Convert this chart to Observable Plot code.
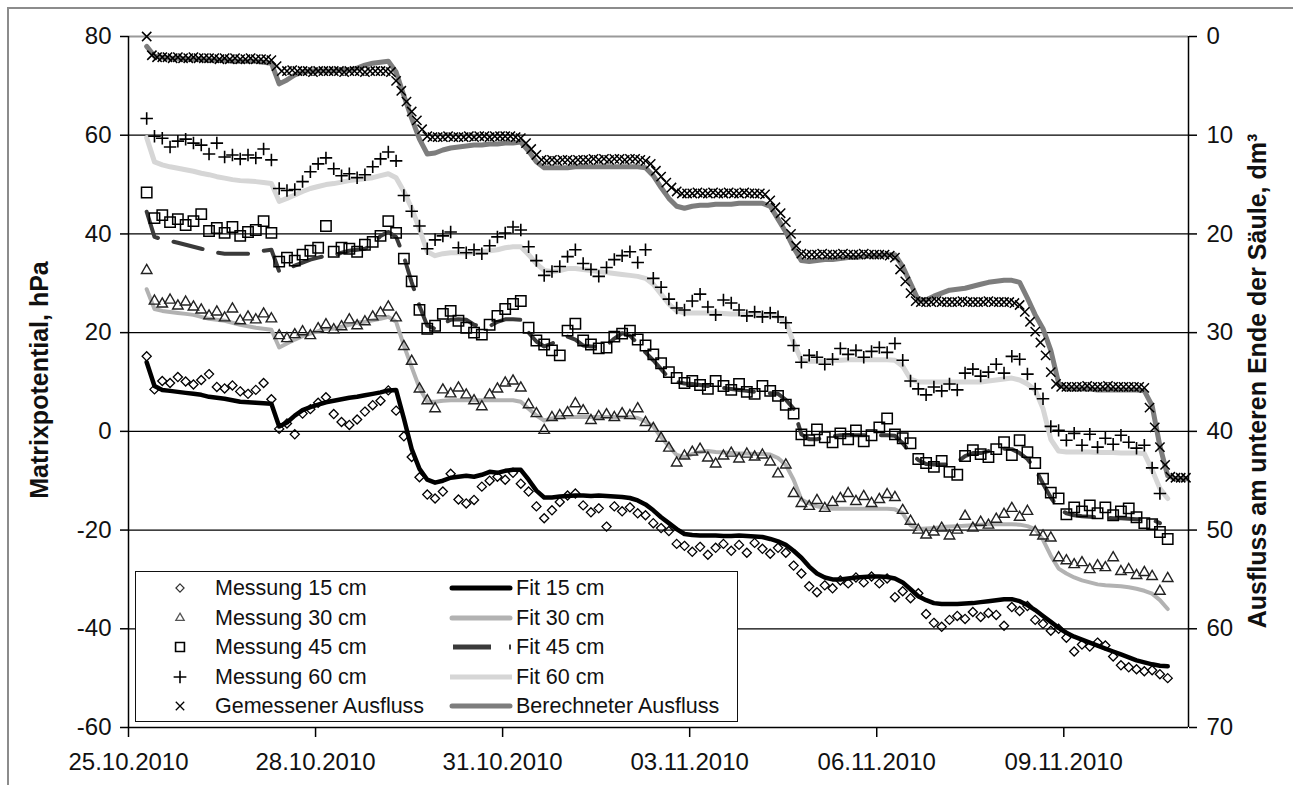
<!DOCTYPE html>
<html><head><meta charset="utf-8">
<script src="https://cdn.jsdelivr.net/npm/d3@7"></script>
<script src="https://cdn.jsdelivr.net/npm/@observablehq/plot@0.6"></script>
<style>
html,body{margin:0;padding:0;background:#fff;overflow:hidden}
#wrap{position:relative;width:1293px;height:785px;overflow:hidden;background:#fff;font-family:"Liberation Sans",Arial,sans-serif;color:#111}
.ttl{position:absolute;white-space:nowrap;font-weight:bold;font-size:25px;line-height:1;transform:translate(-50%,-50%) rotate(-90deg)}
#legend{position:absolute;left:135px;top:571px;width:601px;height:149px;border:1.5px solid #111;background:#fff}
.lt{position:absolute;font-size:21.5px;line-height:24px;height:24px;white-space:nowrap}
.li{position:absolute}
</style></head>
<body>
<div id="wrap">
  <div style="position:absolute;left:7px;top:7px;width:1300px;height:800px;border-top:2px solid #8c8c8c;border-left:2px solid #8c8c8c"></div>
  <div id="chart" style="position:absolute;left:0;top:0"></div>
  <div class="ttl" style="left:38.5px;top:380px">Matrixpotential, hPa</div>
  <div class="ttl" style="left:1257px;top:381px">Ausfluss am unteren Ende der Säule, dm³</div>
  <div id="legend"></div>
</div>
<script>
// ---------- DATA ----------
const startDate = "2010-10-25";
const endDate = "2010-11-11";
const xTickDates = ["2010-10-25","2010-10-28","2010-10-31","2010-11-03","2010-11-06","2010-11-09"];
const yTicksLeft = [80,60,40,20,0,-20,-40,-60];
const gridLines = [60,40,20,0,-20,-40];

// hours since 25.10.2010 00:00 (measurements at depth, fits, calculated outflow)
const hours = [
7,10,13,16,19,22,25,28,31,34,37,40,
43,46,49,52,55,58,61,64,67,70,73,76,
79,82,85,88,91,94,97,100,103,106,109,112,
115,118,121,124,127,130,133,136,139,142,145,148,
151,154,157,160,163,166,169,172,175,178,181,184,
187,190,193,196,199,202,205,208,211,214,217,220,
223,226,229,232,235,238,241,244,247,250,253,256,
259,262,265,268,271,274,277,280,283,286,289,292,
295,298,301,304,307,310,313,316,319,322,325,328,
331,334,337,340,343,346,349,352,355,358,361,364,
367,370,373,376,379,382,385,388,391,394,397,400,
403,406,409];

// hours of measured outflow
const hoursOut = [
7,9,11,13,15,17,19,21,23,25,27,29,
31,33,35,37,39,41,43,45,47,49,51,53,
55,57,59,61,63,65,67,69,71,73,75,77,
79,81,83,85,87,89,91,93,95,97,99,101,
103,105,107,109,111,113,115,117,119,121,123,125,
127,129,131,133,135,137,139,141,143,145,147,149,
151,153,155,157,159,161,163,165,167,169,171,173,
175,177,179,181,183,185,187,189,191,193,195,197,
199,201,203,205,207,209,211,213,215,217,219,221,
223,225,227,229,231,233,235,237,239,241,243,245,
247,249,251,253,255,257,259,261,263,265,267,269,
271,273,275,277,279,281,283,285,287,289,291,293,
295,297,299,301,303,305,307,309,311,313,315,317,
319,321,323,325,327,329,331,333,335,337,339,341,
343,345,347,349,351,353,355,357,359,361,363,365,
367,369,371,373,375,377,379,381,383,385,387,389,
391,393,395,397,399,401,403,405,407];

// Matrixpotential, hPa
const messung15 = [
15.2,8.5,10.2,9.8,11.0,10.1,9.5,10.4,11.6,9.0,8.7,9.3,
8.1,7.6,8.4,9.8,6.5,0.5,1.6,-0.6,3.6,4.5,5.8,6.9,
3.5,1.9,1.3,2.4,4.0,5.3,6.2,8.3,4.2,-1.0,-5.2,-9.3,
-12.8,-13.6,-12.2,-8.6,-13.8,-14.6,-13.9,-11.2,-10.0,-9.2,-9.8,-8.4,
-10.6,-12.2,-15.2,-17.6,-16.0,-14.3,-13.0,-12.6,-15.0,-16.4,-15.6,-19.3,
-15.2,-16.2,-15.4,-16.6,-17.0,-18.6,-19.6,-20.2,-22.8,-23.2,-24.4,-23.4,
-25.0,-23.6,-22.8,-24.2,-23.0,-24.6,-22.6,-23.8,-24.8,-23.6,-24.6,-27.2,
-28.8,-31.4,-32.6,-31.2,-31.8,-30.2,-30.8,-29.6,-30.6,-29.4,-30.8,-29.8,
-33.6,-32.4,-33.8,-32.8,-37.0,-38.8,-39.6,-38.2,-37.4,-38.0,-36.6,-37.6,
-36.8,-37.2,-39.4,-35.6,-36.4,-35.4,-38.2,-39.0,-40.4,-40.0,-41.8,-44.6,
-43.2,-43.6,-42.8,-43.4,-45.6,-47.4,-47.8,-48.2,-48.6,-48.4,-49.2,-50.0];

const messung30 = [
32.6,26.4,25.8,26.6,25.4,26.2,25.2,24.6,23.4,24.2,23.0,24.8,
22.4,23.2,22.6,23.8,22.8,19.4,18.8,19.6,20.2,19.4,20.8,21.6,
20.6,21.2,22.6,21.4,22.2,23.2,24.0,25.2,23.0,17.2,14.2,8.6,
6.2,4.6,8.4,7.6,8.8,7.4,6.2,5.0,7.4,8.6,9.8,10.2,
8.8,5.4,3.6,0.2,2.8,3.2,3.8,5.6,4.2,2.2,3.0,3.4,
2.8,3.6,3.2,4.6,1.8,0.6,-1.4,-3.4,-6.4,-5.0,-4.2,-3.6,
-5.4,-6.6,-5.0,-4.4,-5.6,-4.6,-5.2,-4.8,-6.2,-8.6,-6.8,-12.6,
-14.6,-15.2,-14.0,-15.6,-14.4,-13.6,-12.6,-14.2,-13.2,-14.6,-13.8,-12.8,
-13.4,-16.0,-18.2,-20.0,-21.0,-20.4,-19.6,-21.2,-20.0,-17.2,-19.6,-18.4,
-19.0,-17.8,-16.8,-15.6,-17.4,-16.2,-20.4,-21.2,-21.6,-25.6,-26.2,-27.0,
-26.6,-28.0,-27.2,-27.6,-25.6,-28.4,-28.0,-29.2,-28.6,-29.4,-32.4,-29.8];

const messung45 = [
48.4,43.2,43.8,42.4,43.0,41.8,42.6,44.0,40.6,41.2,40.2,41.4,
39.6,40.4,40.8,42.6,40.2,34.4,35.2,34.6,35.8,36.6,37.2,41.6,
36.4,37.2,37.0,36.4,37.8,38.4,39.6,42.6,40.2,35.0,30.4,24.6,
20.8,21.4,23.8,24.4,22.4,21.0,20.0,19.6,21.6,23.4,24.8,25.8,
26.4,21.0,18.4,17.6,16.4,15.4,20.4,21.8,18.4,17.6,16.8,17.0,
19.2,19.8,20.4,18.6,17.4,15.6,13.8,12.0,10.8,9.8,10.2,9.4,
8.6,10.2,9.2,8.4,9.6,8.0,7.6,9.2,8.2,7.2,5.4,3.6,
-0.6,-1.8,0.4,-1.2,-2.2,-0.4,-1.6,0.2,-2.0,-0.8,0.8,2.6,
-0.6,-1.4,-2.4,-5.6,-6.4,-7.2,-6.0,-8.2,-8.8,-5.0,-3.8,-4.6,
-5.2,-3.6,-2.2,-4.8,-1.8,-4.2,-6.4,-9.6,-12.4,-13.6,-16.8,-15.4,
-16.2,-15.0,-16.6,-15.4,-17.0,-16.2,-15.6,-17.4,-18.6,-18.8,-20.4,-21.8];

const messung60 = [
63.4,59.8,59.4,57.6,58.8,59.2,58.4,58.0,56.2,58.4,55.6,56.0,
55.2,56.0,55.4,57.2,55.0,49.2,48.8,49.0,50.6,52.6,54.2,55.4,
53.2,51.8,52.2,51.4,52.0,53.6,55.2,56.6,54.8,47.8,44.6,41.6,
37.0,38.8,39.6,40.4,37.2,36.2,36.8,36.0,37.6,39.4,40.2,41.4,
40.8,37.4,34.6,31.6,32.4,33.4,35.4,36.8,34.0,32.8,31.4,33.2,
34.8,35.6,36.4,34.2,36.8,31.0,29.2,26.8,25.0,24.6,26.4,27.8,
25.2,23.6,26.6,26.0,24.6,23.4,24.2,23.2,24.0,23.2,22.0,17.4,
14.0,15.4,15.0,13.6,14.6,16.8,15.6,16.4,15.0,16.2,17.0,16.0,
17.8,14.4,10.2,8.6,7.4,9.0,8.2,9.6,8.4,11.8,12.6,11.2,
12.0,13.6,11.8,15.2,14.6,11.6,8.6,6.6,1.0,0.2,-1.8,-0.4,
-2.8,-0.6,-3.2,-1.4,-2.6,-0.8,-2.2,-3.4,-2.8,-7.4,-12.6,null];

const fit15 = [
14.0,9.2,8.4,8.2,8.0,7.8,7.6,7.4,7.0,6.8,6.6,6.3,
6.0,5.9,5.8,5.7,5.6,1.0,1.8,3.2,4.3,4.9,5.4,5.9,
6.2,6.5,6.8,7.0,7.3,7.6,7.9,8.3,8.4,2.6,-3.6,-7.6,
-9.8,-10.4,-10.0,-9.4,-9.2,-9.0,-9.2,-8.8,-8.2,-8.4,-8.0,-7.8,
-7.8,-9.8,-12.0,-13.4,-13.4,-13.2,-13.1,-13.0,-13.0,-13.1,-13.0,-13.1,
-13.2,-13.3,-13.5,-14.0,-14.8,-16.0,-17.4,-18.6,-19.8,-20.8,-21.0,-21.1,
-21.1,-21.1,-21.2,-21.2,-21.1,-21.2,-21.3,-21.4,-21.8,-22.3,-23.0,-24.2,
-25.6,-27.4,-28.8,-29.6,-30.0,-30.0,-29.8,-29.6,-29.5,-29.4,-29.4,-29.5,
-29.8,-30.6,-32.0,-33.4,-34.2,-34.8,-35.0,-35.0,-35.0,-34.9,-34.8,-34.6,
-34.4,-34.2,-34.0,-34.0,-34.4,-35.2,-36.2,-37.4,-38.6,-39.8,-40.8,-41.6,
-42.2,-42.8,-43.4,-44.0,-44.6,-45.2,-45.8,-46.4,-46.8,-47.2,-47.5,-47.6,
null,null,null];

const fit30 = [
28.8,24.8,24.4,24.2,24.0,23.8,23.6,23.2,22.8,22.6,22.4,22.0,
21.6,21.3,21.0,20.8,20.6,17.0,17.8,18.6,19.3,19.8,20.3,20.8,
20.8,21.2,21.6,22.0,22.2,22.5,22.8,23.2,22.2,17.4,13.0,8.8,
6.0,6.0,6.2,6.3,6.3,6.3,6.3,6.3,6.3,6.3,6.3,6.3,
6.0,4.6,3.2,2.2,2.6,2.9,2.9,2.9,2.9,2.9,2.9,2.9,
2.9,2.9,2.9,2.7,2.0,1.0,-1.2,-3.0,-4.8,-5.2,-4.6,-4.2,
-4.0,-4.2,-4.3,-4.4,-4.5,-4.5,-4.6,-4.6,-4.7,-5.4,-6.8,-9.8,
-13.8,-14.6,-15.2,-15.5,-15.7,-15.7,-15.7,-15.7,-15.7,-15.7,-15.7,-15.7,
-15.8,-16.6,-19.0,-19.8,-19.7,-19.6,-19.4,-19.3,-19.2,-19.1,-19.0,-18.9,
-18.8,-18.8,-18.8,-18.8,-18.9,-19.2,-19.8,-22.0,-25.2,-27.8,-28.8,-29.6,
-30.2,-30.6,-31.0,-31.2,-31.3,-31.4,-31.6,-31.9,-32.3,-32.9,-34.2,-36.0,
null,null,null];

const fit45 = [
44.5,39.4,38.9,38.6,38.2,37.8,37.4,37.0,36.6,36.2,36.0,36.0,
36.0,36.0,36.2,36.6,36.8,32.4,32.8,33.6,34.2,34.8,35.2,35.6,
35.6,36.2,36.6,36.8,37.0,37.8,39.6,40.4,39.4,35.4,30.2,25.4,
21.4,20.8,21.8,22.6,22.7,22.6,21.6,21.3,21.3,22.2,22.7,22.7,
22.6,20.0,18.2,17.2,17.8,18.6,19.2,18.6,17.4,17.2,17.2,17.4,
18.8,19.9,19.4,17.8,16.0,14.4,12.6,10.8,10.0,9.7,9.6,9.4,
9.2,9.0,8.8,8.6,8.4,8.2,8.0,7.8,7.7,7.6,6.4,4.6,
-0.6,-1.6,-1.6,-1.2,-1.0,-0.8,-0.8,-0.8,-0.8,-0.8,-0.8,-0.8,
-0.9,-2.4,-4.4,-5.8,-6.6,-6.7,-6.7,-6.7,-6.2,-5.0,-4.4,-4.4,
-4.0,-3.6,-3.5,-3.6,-4.4,-5.6,-7.6,-10.6,-13.4,-15.6,-16.6,-17.0,
-17.2,-17.3,-17.4,-17.5,-17.6,-17.6,-17.7,-17.8,-17.8,-17.9,-18.6,null,
null,null,null];

const fit60 = [
59.5,54.6,54.0,53.6,53.3,53.0,52.7,52.3,52.0,51.6,51.3,51.0,
50.8,50.7,50.6,50.4,50.2,46.6,47.2,47.9,48.6,49.2,49.6,50.0,
50.2,50.5,50.8,51.0,51.2,51.4,51.8,52.2,51.4,48.6,45.2,41.0,
36.4,35.6,36.0,36.2,36.2,36.2,36.2,36.4,36.6,36.8,37.2,37.4,
37.4,35.8,34.0,32.6,32.4,32.6,33.0,33.0,32.8,32.6,32.4,32.2,
32.0,31.8,31.6,31.4,31.0,29.8,27.8,25.8,24.4,24.0,24.0,24.0,
24.0,24.0,23.9,23.8,23.8,23.7,23.6,23.6,23.5,23.2,22.2,18.0,
14.4,14.2,14.2,14.3,14.4,14.4,14.5,14.5,14.5,14.5,14.5,14.5,
14.4,13.2,10.6,10.0,10.0,10.0,10.0,10.0,10.0,10.0,10.0,10.0,
10.2,10.4,10.6,10.8,10.4,9.6,8.4,4.6,-1.6,-4.0,-4.2,-4.2,
-4.2,-4.2,-4.3,-4.3,-4.3,-4.4,-4.4,-4.4,-4.5,-7.8,-11.6,-13.6,
null,null,null];

// Ausfluss am unteren Ende der Säule, dm³ (right axis)
const berechneterAusfluss = [
1.0,2.0,2.1,2.2,2.2,2.3,2.3,2.3,2.4,2.4,2.4,2.5,
2.5,2.5,2.5,2.6,2.7,4.8,4.4,3.9,3.6,3.5,3.5,3.5,
3.5,3.4,3.4,3.2,2.9,2.7,2.6,2.5,3.6,6.0,8.3,10.4,
11.9,11.8,11.5,11.3,11.2,11.1,11.0,11.0,10.9,10.9,10.8,10.8,
10.7,11.6,12.7,13.3,13.3,13.3,13.3,13.2,13.2,13.2,13.2,13.2,
13.2,13.2,13.2,13.2,13.3,14.1,15.3,16.4,17.2,17.4,17.2,17.1,
17.1,17.0,17.0,17.0,16.9,16.9,16.9,16.9,17.2,18.5,19.8,21.4,
22.7,22.8,22.7,22.6,22.6,22.5,22.4,22.4,22.3,22.2,22.2,22.1,
22.1,23.3,25.0,26.7,26.7,26.3,26.0,25.7,25.6,25.5,25.3,25.1,
24.9,24.8,24.7,24.7,24.9,26.5,28.2,29.6,31.8,35.1,35.7,35.7,
35.7,35.7,35.8,35.8,35.8,35.8,35.8,35.8,35.9,37.4,41.5,44.5,
44.8,44.8,44.8];

const gemessenerAusfluss = [
0.0,1.9,2.1,2.1,2.1,2.2,2.1,2.2,2.2,2.1,2.2,2.2,
2.2,2.2,2.3,2.2,2.3,2.2,2.3,2.3,2.2,2.3,2.3,2.3,
2.4,3.0,3.5,3.5,3.4,3.5,3.5,3.5,3.6,3.5,3.5,3.5,
3.5,3.5,3.6,3.5,3.5,3.5,3.6,3.5,3.5,3.5,3.5,3.6,
4.5,5.5,6.6,7.6,8.5,9.4,10.1,10.2,10.2,10.2,10.1,10.2,
10.2,10.2,10.1,10.2,10.1,10.1,10.2,10.1,10.1,10.1,10.1,10.2,
10.3,10.8,11.4,12.0,12.5,12.6,12.5,12.6,12.5,12.5,12.6,12.5,
12.5,12.5,12.4,12.5,12.4,12.5,12.4,12.4,12.5,12.4,12.4,12.5,
12.6,12.9,13.6,14.2,14.8,15.3,15.7,15.9,15.9,15.9,15.8,15.9,
15.9,15.8,15.9,15.9,15.8,15.9,15.9,15.8,15.9,15.9,15.9,16.0,
16.6,17.3,17.9,18.8,20.0,21.2,22.0,22.1,22.1,22.1,22.0,22.1,
22.1,22.1,22.0,22.1,22.1,22.1,22.0,22.1,22.1,22.1,22.1,22.2,
22.4,23.6,24.8,26.0,26.8,26.9,26.9,26.9,26.8,26.9,26.9,26.9,
26.9,26.8,26.9,26.9,26.9,26.9,26.8,26.9,26.9,26.9,26.9,27.0,
27.2,27.9,28.9,29.9,31.0,32.3,34.0,35.2,35.5,35.5,35.5,35.5,
35.5,35.4,35.5,35.5,35.5,35.4,35.5,35.5,35.5,35.5,35.5,35.5,
35.6,37.6,39.6,41.6,43.4,44.6,44.7,44.7,44.7];

const legendMeasure = ["Messung 15 cm","Messung 30 cm","Messung 45 cm","Messung 60 cm","Gemessener Ausfluss"];
const legendFit = ["Fit 15 cm","Fit 30 cm","Fit 45 cm","Fit 60 cm","Berechneter Ausfluss"];

// ---------- BUILD ----------
const t0 = new Date(startDate + "T00:00:00Z").getTime();
const toDate = h => new Date(t0 + h * 3600000);
const rows = (hs, vals) => vals.map((v, i) => ({t: toDate(hs[i]), v})).filter(d => d.v != null);
const leftFromOut = d => 80 - 2 * d.v; // right axis (dm³) mapped onto left scale

const dM15 = rows(hours, messung15), dM30 = rows(hours, messung30), dM45 = rows(hours, messung45), dM60 = rows(hours, messung60);
const dF15 = rows(hours, fit15), dF30 = rows(hours, fit30), dF45 = rows(hours, fit45), dF60 = rows(hours, fit60);
const dCalc = rows(hours, berechneterAusfluss), dMeas = rows(hoursOut, gemessenerAusfluss);

const xDomain = [new Date(startDate + "T00:00:00Z"), new Date(endDate + "T00:00:00Z")];
const xTicks = xTickDates.map(s => new Date(s + "T00:00:00Z"));
const fmtDate = d3.utcFormat("%d.%m.%Y");

const chart = Plot.plot({
  width: 1293, height: 785,
  marginLeft: 128, marginRight: 105, marginTop: 36, marginBottom: 58,
  x: {type: "utc", domain: xDomain},
  y: {domain: [-60, 80]},
  style: {fontFamily: "'Liberation Sans', Arial, sans-serif", fontSize: "24px", color: "#111", background: "transparent", overflow: "visible"},
  marks: [
    Plot.ruleY(gridLines, {stroke: "#000", strokeWidth: 1.3}),
    Plot.ruleY([80], {stroke: "#9a9a9a", strokeWidth: 2}),
    Plot.line(dCalc, {x: "t", y: leftFromOut, stroke: "#7d7d7d", strokeWidth: 5, clip: true}),
    Plot.line(dF60, {x: "t", y: "v", stroke: "#d6d6d6", strokeWidth: 5}),
    Plot.line(dF30, {x: "t", y: "v", stroke: "#b2b2b2", strokeWidth: 4}),
    Plot.line(dF45, {x: "t", y: "v", stroke: "#3a3a3a", strokeWidth: 4, strokeDasharray: "30,16"}),
    Plot.line(dF15, {x: "t", y: "v", stroke: "#000", strokeWidth: 4.5}),
    Plot.dot(dMeas, {x: "t", y: leftFromOut, symbol: "times", r: 4.3, stroke: "#000", strokeWidth: 1.5, fill: "none"}),
    Plot.dot(dM60, {x: "t", y: "v", symbol: "plus", r: 4.1, stroke: "#000", strokeWidth: 1.6, fill: "none"}),
    Plot.dot(dM45, {x: "t", y: "v", symbol: "square2", r: 6.6, stroke: "#000", strokeWidth: 1.5, fill: "none"}),
    Plot.dot(dM30, {x: "t", y: "v", symbol: "triangle2", r: 5, stroke: "#222", strokeWidth: 1.4, fill: "none"}),
    Plot.dot(dM15, {x: "t", y: "v", symbol: "diamond2", r: 4.1, stroke: "#000", strokeWidth: 1.3, fill: "none"}),
    Plot.ruleX([xDomain[0]], {stroke: "#000", strokeWidth: 1.5}),
    Plot.ruleX([xDomain[1]], {stroke: "#000", strokeWidth: 1.5}),
    Plot.ruleY([-60], {stroke: "#000", strokeWidth: 1.5}),
    Plot.axisY({anchor: "left", ticks: yTicksLeft, tickSize: 8, tickPadding: 9, tickFormat: d => String(d), label: null, stroke: "#000", strokeWidth: 1.5}),
    Plot.axisY({anchor: "right", ticks: yTicksLeft, tickSize: 8, tickPadding: 10, tickFormat: d => String((80 - d) / 2), label: null, stroke: "#000", strokeWidth: 1.5}),
    Plot.axisX({ticks: xTicks, tickSize: 10, tickPadding: 15, tickFormat: fmtDate, label: null, stroke: "#000", strokeWidth: 1.5})
  ]
});
document.getElementById("chart").appendChild(chart);

// ---------- LEGEND ----------
const legend = document.getElementById("legend");
const sym = (type, size) => d3.symbol(type, size)();
const icons = [
  `<path d="${sym(d3.symbolDiamond2, 42)}" fill="none" stroke="#333" stroke-width="1.2"/>`,
  `<path d="${sym(d3.symbolTriangle2, 50)}" fill="none" stroke="#555" stroke-width="1.3"/>`,
  `<path d="${sym(d3.symbolSquare2, 100)}" fill="none" stroke="#000" stroke-width="1.6"/>`,
  `<path d="${sym(d3.symbolPlus, 55)}" fill="none" stroke="#000" stroke-width="1.6"/>`,
  `<path d="${sym(d3.symbolTimes, 48)}" fill="none" stroke="#000" stroke-width="1.3"/>`
];
const lineIcons = [
  `<line x1="3" x2="61" y1="12" y2="12" stroke="#000" stroke-width="5" stroke-linecap="round"/>`,
  `<line x1="3" x2="61" y1="12" y2="12" stroke="#b2b2b2" stroke-width="5" stroke-linecap="round"/>`,
  `<line x1="4" x2="42" y1="12" y2="12" stroke="#3a3a3a" stroke-width="5"/><line x1="60" x2="62" y1="12" y2="12" stroke="#3a3a3a" stroke-width="5"/>`,
  `<line x1="1" x2="63" y1="12" y2="12" stroke="#d6d6d6" stroke-width="5"/>`,
  `<line x1="3" x2="61" y1="12" y2="12" stroke="#7d7d7d" stroke-width="5" stroke-linecap="round"/>`
];
legendMeasure.forEach((label, i) => {
  const cy = 16 + i * 29.6;
  legend.insertAdjacentHTML("beforeend",
    `<svg class="li" width="24" height="24" viewBox="-12 -12 24 24" style="left:${179 - 135 - 12}px;top:${cy - 12}px">${icons[i]}</svg>` +
    `<div class="lt" style="left:${214 - 135}px;top:${cy - 12}px">${label}</div>`);
});
legendFit.forEach((label, i) => {
  const cy = 16 + i * 29.6;
  legend.insertAdjacentHTML("beforeend",
    `<svg class="li" width="64" height="24" style="left:${448 - 135}px;top:${cy - 12}px">${lineIcons[i]}</svg>` +
    `<div class="lt" style="left:${515 - 135}px;top:${cy - 12}px">${label}</div>`);
});
</script>
</body></html>
